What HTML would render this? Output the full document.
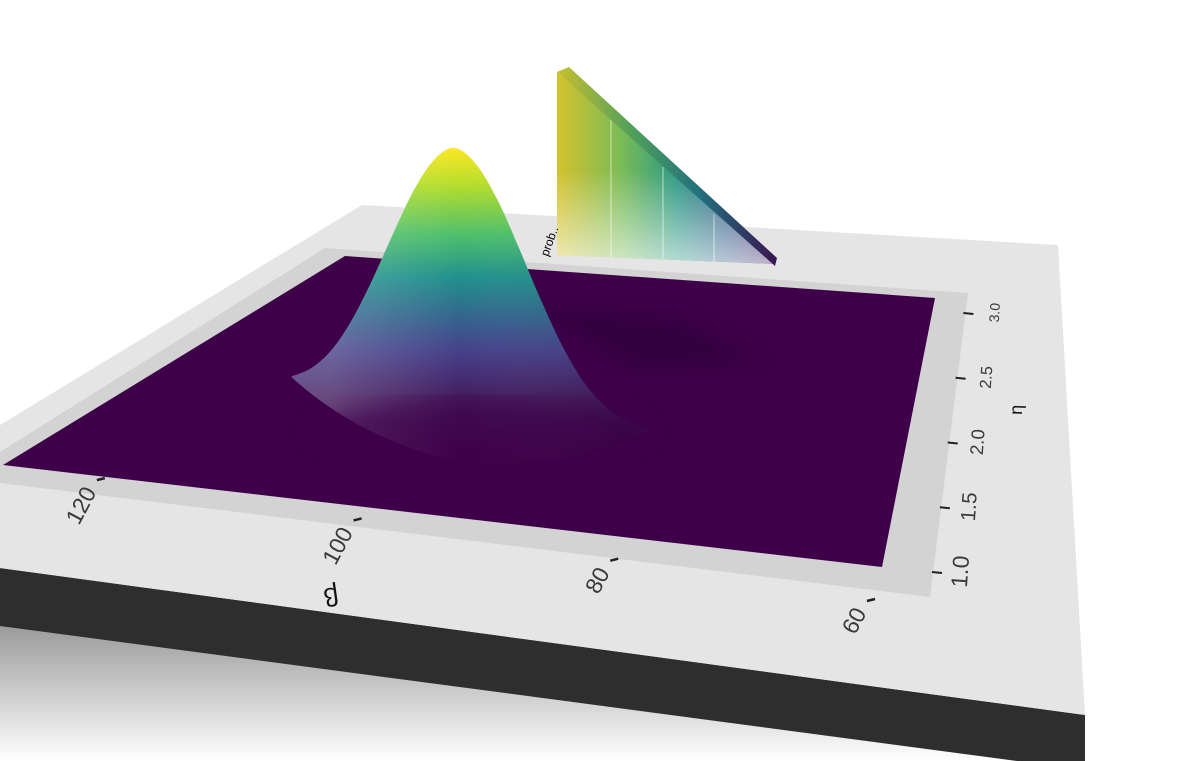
<!DOCTYPE html>
<html><head><meta charset="utf-8"><style>
html,body{margin:0;padding:0;background:#fff;}
svg{display:block;font-family:"Liberation Sans",sans-serif;}
</style></head><body>
<svg id="chart" width="1190" height="761" viewBox="0 0 1190 761">
<defs>
<linearGradient id="shadowG" x1="0" y1="625" x2="0" y2="761" gradientUnits="userSpaceOnUse">
<stop offset="0" stop-color="#9a9a9a"/><stop offset="1" stop-color="#ffffff"/></linearGradient>
<linearGradient id="bumpG" x1="0" y1="148" x2="0" y2="455" gradientUnits="userSpaceOnUse">
<stop offset="0" stop-color="#fde725"/><stop offset="0.12" stop-color="#b5de2b"/>
<stop offset="0.28" stop-color="#4fc06a"/><stop offset="0.42" stop-color="#21918c"/>
<stop offset="0.55" stop-color="#33658d"/><stop offset="0.66" stop-color="#46418a"/>
<stop offset="0.82" stop-color="#431a5c"/><stop offset="1" stop-color="#3e0049"/></linearGradient>
<linearGradient id="bumpShade" x1="330" y1="0" x2="620" y2="0" gradientUnits="userSpaceOnUse">
<stop offset="0" stop-color="#fff" stop-opacity="0.2"/><stop offset="0.45" stop-color="#fff" stop-opacity="0"/>
<stop offset="1" stop-color="#000" stop-opacity="0.1"/></linearGradient>
<linearGradient id="edgeG" x1="557" y1="0" x2="777" y2="0" gradientUnits="userSpaceOnUse">
<stop offset="0" stop-color="#c8c030"/><stop offset="0.35" stop-color="#4e9e5c"/>
<stop offset="0.65" stop-color="#22707e"/><stop offset="1" stop-color="#3a1450"/></linearGradient>
<linearGradient id="legH" x1="557" y1="0" x2="775" y2="0" gradientUnits="userSpaceOnUse">
<stop offset="0" stop-color="#d4c22c"/><stop offset="0.3" stop-color="#78bb58"/>
<stop offset="0.55" stop-color="#2a9884"/><stop offset="0.8" stop-color="#35588a"/><stop offset="1" stop-color="#45145a"/></linearGradient>
<linearGradient id="legV" x1="0" y1="170" x2="0" y2="262" gradientUnits="userSpaceOnUse">
<stop offset="0" stop-color="#fff" stop-opacity="0"/><stop offset="1" stop-color="#fff" stop-opacity="0.65"/></linearGradient>
<filter id="blur"><feGaussianBlur stdDeviation="10"/></filter>
</defs>
<polygon points="0,620 1085,761 0,761" fill="url(#shadowG)"/>
<polygon points="0,568 1085,715 1085,761 0,761" fill="#2e2e2e"/>
<polygon points="0,626 1085,770 1085,761 0,761" fill="url(#shadowG)"/>
<polygon points="0,425 362,205 1058,245 1085,715 0,568" fill="#e5e5e5"/>
<polygon points="325,248 968,293 930,597 0,483 0,452" fill="#d3d3d3"/>
<polygon points="345,256 935,298 882,567 3,465" fill="#3e0049"/>
<polygon points="520,305 680,320 760,360 640,370" fill="#2c0034" opacity="0.5" filter="url(#blur)"/>
<g id="bump"></g>
<g id="legend">
<polygon points="557,72 775,264 557,255" fill="url(#legH)"/>
<polygon points="557,72 775,264 557,255" fill="url(#legV)"/>
<polygon points="557,72 569,67 777,258 775,266" fill="url(#edgeG)"/>
<line x1="611" y1="120" x2="611" y2="258" stroke="#fff" stroke-opacity="0.6"/>
<line x1="663" y1="167" x2="663" y2="259" stroke="#fff" stroke-opacity="0.6"/>
<line x1="714" y1="214" x2="714" y2="262" stroke="#fff" stroke-opacity="0.6"/>
<text x="548" y="257" font-size="12" transform="rotate(-70 548 257)">prob..</text>
</g>
<g id="axes"></g>
</svg>
<script>
// beta axis tick labels (front edge) and eta tick labels (right edge)
const betaTicks = [120, 100, 80, 60];
const etaTicks = ["1.0", "1.5", "2.0", "2.5", "3.0"];
// density profile across beta (peak near ~95): relative heights
const profileX = [-0.8,-0.7,-0.6,-0.5,-0.4,-0.3,-0.2,-0.1,0,0.1,0.2,0.3,0.4,0.5,0.6,0.7,0.8,0.9];
const profileH = [0.03,0.07,0.15,0.28,0.45,0.64,0.82,0.95,1.0,0.95,0.82,0.64,0.45,0.28,0.15,0.07,0.03,0.01];

const NS="http://www.w3.org/2000/svg";
function betaPos(b){const t=(b-60)/(127-60); return [865+(5-865)*t, 597+(462-597)*t];}
function etaPos(e){const t=(e-1)/(3.1-1); return [932+(965-932)*t, 572+(300-572)*t];}
function px(u){return 455+u*(u>0?215:205);}
function py(h,u){return 392+(u>0?u*45:u*10)-244*h;}

const g=document.getElementById('bump');
const pts=profileX.map((u,i)=>[px(u),py(profileH[i],u)]);
let d='M'+pts[0][0]+','+pts[0][1];
for(let i=0;i<pts.length-1;i++){
  const p0=pts[Math.max(0,i-1)],p1=pts[i],p2=pts[i+1],p3=pts[Math.min(pts.length-1,i+2)];
  const c1=[p1[0]+(p2[0]-p0[0])/6,p1[1]+(p2[1]-p0[1])/6];
  const c2=[p2[0]-(p3[0]-p1[0])/6,p2[1]-(p3[1]-p1[1])/6];
  d+=` C${c1[0].toFixed(1)},${c1[1].toFixed(1)} ${c2[0].toFixed(1)},${c2[1].toFixed(1)} ${p2[0].toFixed(1)},${p2[1].toFixed(1)}`;
}
d+=' Q580,470 460,462 Q360,440 '+pts[0][0]+','+pts[0][1]+' Z';
const p=document.createElementNS(NS,'path');
p.setAttribute('d',d);p.setAttribute('fill','url(#bumpG)');


g.appendChild(p);
const p2=document.createElementNS(NS,'path');
p2.setAttribute('d',d);p2.setAttribute('fill','url(#bumpShade)');


g.appendChild(p2);
const base=document.createElementNS(NS,'ellipse');
base.setAttribute('cx',480);base.setAttribute('cy',430);base.setAttribute('rx',170);base.setAttribute('ry',30);
base.setAttribute('fill','#3e0049');base.setAttribute('opacity','0.55');base.setAttribute('filter','url(#blur)');


g.appendChild(base);

const ax=document.getElementById('axes');
betaTicks.forEach(b=>{
  const [x,y]=betaPos(b);
  const l=document.createElementNS(NS,'line');
  l.setAttribute('x1',x+2);l.setAttribute('y1',y+4);l.setAttribute('x2',x+10);l.setAttribute('y2',y+2);
  l.setAttribute('stroke','#222');l.setAttribute('stroke-width','2.5');
  
  
  ax.appendChild(l);
  const t=document.createElementNS(NS,'text');
  t.setAttribute('x',x+2);t.setAttribute('y',y+16);t.setAttribute('font-size','23');t.setAttribute('fill','#3a3a3a');
  t.setAttribute('text-anchor','end');
  t.setAttribute('transform',`rotate(-62 ${x+2} ${y+16})`);
  t.textContent=b;
  
  
  ax.appendChild(t);
});
etaTicks.forEach(e=>{
  const [x,y]=etaPos(parseFloat(e));
  const l=document.createElementNS(NS,'line');
  l.setAttribute('x1',x);l.setAttribute('y1',y);l.setAttribute('x2',x+10);l.setAttribute('y2',y+1);
  l.setAttribute('stroke','#222');l.setAttribute('stroke-width','2');
  
  
  ax.appendChild(l);
  const fs=23-(parseFloat(e)-1)*4.5;
  const t=document.createElementNS(NS,'text');
  t.setAttribute('x',x+36);t.setAttribute('y',y);t.setAttribute('font-size',fs);t.setAttribute('fill','#3a3a3a');
  t.setAttribute('text-anchor','middle');
  t.setAttribute('transform',`rotate(-86 ${x+36} ${y})`);
  t.textContent=e;
  
  
  ax.appendChild(t);
});
const bl=document.createElementNS(NS,'text');
bl.setAttribute('x',330);bl.setAttribute('y',588);bl.setAttribute('font-size','26');bl.setAttribute('fill','#111');
bl.setAttribute('text-anchor','middle');bl.setAttribute('transform','rotate(172 330 588)');
bl.textContent='β';


ax.appendChild(bl);
const el=document.createElementNS(NS,'text');
el.setAttribute('x',1022);el.setAttribute('y',410);el.setAttribute('font-size','18');el.setAttribute('fill','#111');
el.setAttribute('text-anchor','middle');el.setAttribute('transform','rotate(-88 1022 410)');
el.textContent='η';


ax.appendChild(el);
</script>
</body></html>
